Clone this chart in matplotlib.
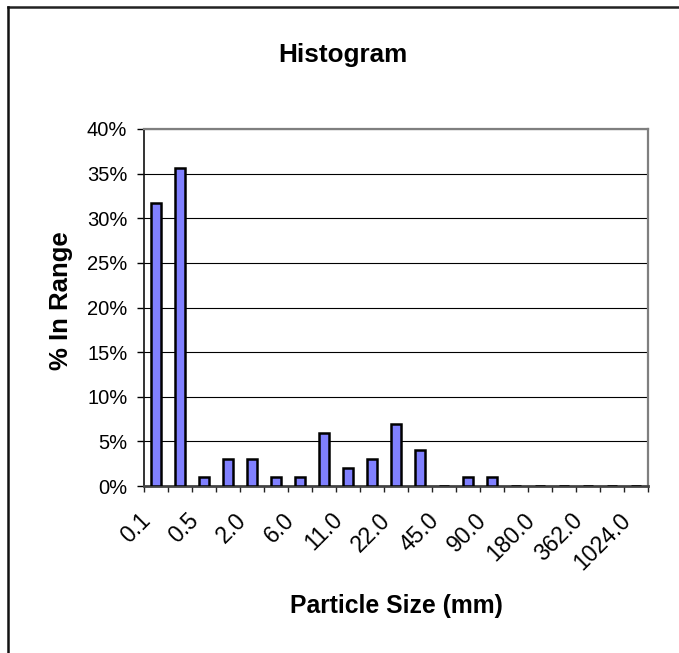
import matplotlib
matplotlib.use("Agg")
import matplotlib.pyplot as plt
from matplotlib.lines import Line2D
from matplotlib.ticker import FuncFormatter, FixedLocator

# Sieve classes (mm) and share of particles in each class (%)
sizes = ["0.1", "0.25", "0.5", "1.0", "2.0", "4.0", "6.0", "8.0", "11.0", "16.0",
         "22.0", "32.0", "45.0", "64.0", "90.0", "128.0", "180.0", "256.0",
         "362.0", "512.0", "1024.0"]
pct_in_range = [31.7, 35.6, 1.0, 3.0, 3.0, 1.0, 1.0, 5.9, 2.0, 3.0,
                6.9, 4.0, 0.0, 1.0, 1.0, 0.0, 0.0, 0.0, 0.0, 0.0, 0.0]
y_ticks = [0, 5, 10, 15, 20, 25, 30, 35, 40]

plt.rcParams["font.family"] = ["Liberation Sans", "DejaVu Sans"]

W, H, DPI = 679, 653, 100
fig = plt.figure(figsize=(W / DPI, H / DPI), dpi=DPI)
fig.patch.set_facecolor("white")

# plot area in pixel terms
left, right, top, bottom = 144, 648, 129, 486
ax = fig.add_axes([left / W, (H - bottom) / H, (right - left) / W, (bottom - top) / H])

x = list(range(len(sizes)))
ax.bar(x, pct_in_range, width=0.42, color="#8080FF", edgecolor="black",
       linewidth=1.8, zorder=3)

ax.set_xlim(-0.5, len(sizes) - 0.5)
ax.set_ylim(0, 40)
ax.set_yticks(y_ticks)
ax.yaxis.set_major_formatter(FuncFormatter(lambda v, p: f"{v:.0f}%"))
ax.yaxis.grid(True, color="black", linewidth=0.8, zorder=0)
ax.set_axisbelow(True)

# slanted labels on every other class (anchored a little left of the class
# centre so the text ends under the bar), tick marks between classes
label_offset = 0.37
labelled = [i for i in x if i % 2 == 0]
ax.set_xticks([i - label_offset for i in labelled])
ax.set_xticklabels([sizes[i] for i in labelled],
                   rotation=45, ha="right", va="center", rotation_mode="anchor")
ax.xaxis.set_minor_locator(FixedLocator([i - 0.5 for i in range(len(sizes) + 1)]))
ax.tick_params(axis="x", which="major", length=0, pad=22, labelsize=16.5)
ax.tick_params(axis="x", which="minor", length=4.5, width=1.0, direction="out", color="#222222")
ax.tick_params(axis="y", which="major", length=5, width=1.0, direction="out",
               pad=7, labelsize=14.5)

for side in ("top", "right"):
    ax.spines[side].set_color("#7f7f7f")
    ax.spines[side].set_linewidth(1.6)
ax.spines["left"].set_color("#111111")
ax.spines["left"].set_linewidth(1.2)
ax.spines["bottom"].set_color("#444444")
ax.spines["bottom"].set_linewidth(2.0)

ax.set_ylabel("% In Range", fontsize=18.5, fontweight="bold", labelpad=10)
ax.yaxis.label.set_y(0.52)
ax.set_xlabel("Particle Size (mm)", fontsize=17.8, fontweight="bold", labelpad=14)
fig.text(343 / W, 1 - 55 / H, "Histogram", fontsize=18.8, fontweight="bold",
         ha="center", va="center")

# chart-area border along the top and left edges
fig.add_artist(Line2D([7.5 / W, 1.0], [1 - 6.5 / H, 1 - 6.5 / H],
                      transform=fig.transFigure, color="#222222", linewidth=1.8))
fig.add_artist(Line2D([7.5 / W, 7.5 / W], [0.0, 1 - 6.5 / H],
                      transform=fig.transFigure, color="#111111", linewidth=1.8))

fig.savefig("out.png", dpi=DPI, facecolor="white")
